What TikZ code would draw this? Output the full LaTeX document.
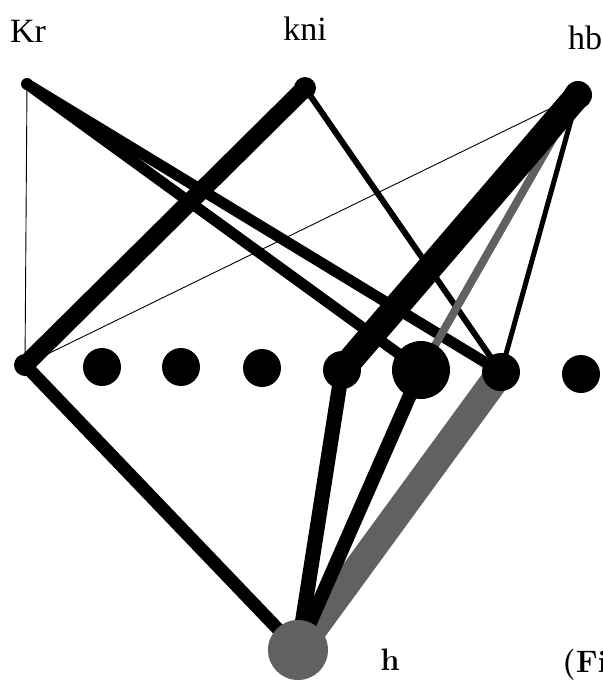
\documentclass[tikz,border=0pt]{standalone}
\usepackage{fontspec}
\newfontfamily\labfont{Liberation Serif}
\definecolor{dgray}{rgb}{0.38,0.38,0.38}
\begin{document}
\begin{tikzpicture}[x=1pt,y=1pt,
  dot/.style={circle,fill=black,inner sep=0pt,minimum size=#1},
  gdot/.style={circle,fill=dgray,inner sep=0pt,minimum size=#1},
  edge/.style={draw=black,line width=#1},
  gedge/.style={draw=dgray,line width=#1},
  lab/.style={font=\labfont\fontsize{34}{34}\selectfont,anchor=base,inner sep=0pt},
  lab2/.style={font=\bfseries\fontsize{31}{31}\selectfont,anchor=base,inner sep=0pt}]
\useasboundingbox (0,0) rectangle (603,-681);
\fill[white] (0,0) rectangle (603,-681);
% node coordinates
\coordinate (Kr) at (27,-84);
\coordinate (kni) at (305,-88);
\coordinate (hb) at (578,-95);
\coordinate (L) at (25,-365);
\coordinate (d1) at (102,-367);
\coordinate (d2) at (181,-367);
\coordinate (d3) at (262,-368);
\coordinate (n4) at (342,-370);
\coordinate (big) at (421,-370);
\coordinate (n7) at (501,-372);
\coordinate (d8) at (581,-374);
\coordinate (h) at (298,-650);
% edges
\draw[edge=0.9] (Kr) -- (L);
\draw[edge=0.9] (hb) -- (L);
\draw[edge=11] (Kr) -- (big);
\draw[edge=11] (Kr) -- (n7);
\draw[edge=18] (kni) -- (L);
\draw[edge=6] (kni) -- (n7);
\draw[edge=5] (hb) -- (n7);
\draw[gedge=8] (hb) -- (big);
\draw[gedge=28] (n7) -- (h);
\draw[edge=26,line cap=round] (hb) -- (n4);
\draw[edge=13] (L) -- (h);
\draw[edge=15] (n4) -- (h);
\draw[edge=14] (big) -- (h);
% nodes
\node[dot=12pt] (nKr) at (Kr) {};
\node[dot=22pt] (nkni) at (kni) {};
\node[dot=28pt] (nhb) at (hb) {};
\node[dot=22pt] (nL) at (L) {};
\node[dot=38pt] (nd1) at (d1) {};
\node[dot=38pt] (nd2) at (d2) {};
\node[dot=38pt] (nd3) at (d3) {};
\node[dot=38pt] (nn4) at (n4) {};
\node[dot=58pt] (nbig) at (big) {};
\node[dot=38pt] (nn7) at (n7) {};
\node[dot=38pt] (nd8) at (d8) {};
\node[gdot=60pt] (nh) at (h) {};
% labels
\node[lab,anchor=base west] (tKr) at (10,-42) {Kr};
\node[lab] (tkni) at (305,-40) {kni};
\node[lab] (thb) at (585,-49) {hb};
\node[lab2] (th) at (390,-670) {h};
\node[lab2,anchor=base west] (tFi) at (562,-672) {(Fi};
\end{tikzpicture}
\end{document}
